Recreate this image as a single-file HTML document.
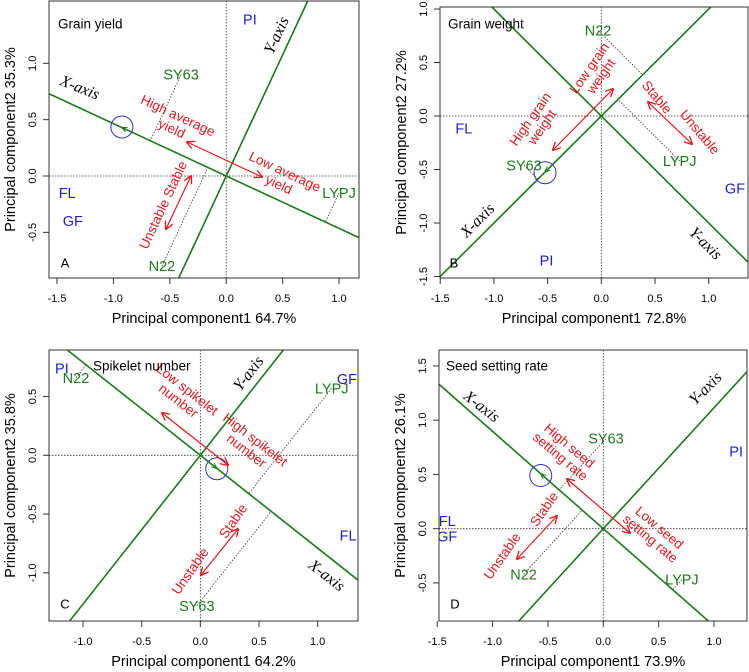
<!DOCTYPE html>
<html><head><meta charset="utf-8"><style>
html,body{margin:0;padding:0;background:#fff;width:749px;height:672px;overflow:hidden}
svg{display:block;font-family:"Liberation Sans",sans-serif}
</style></head><body>
<svg id="fig" width="749" height="672" viewBox="0 0 749 672"></svg>
<script>
// ---- Panel A: Grain yield ----
const gyGenoNames=["SY63","N22","LYPJ"];
const gyGenoX=[-0.40,-0.57,1.0];
const gyGenoY=[0.90,-0.80,-0.15];
const gyEnvNames=["PI","FL","GF"];
const gyEnvX=[0.21,-1.41,-1.36];
const gyEnvY=[1.39,-0.15,-0.40];
const gyAxisSlope=-0.465;
const gyCircle=[-0.925,0.435];
// ---- Panel B: Grain weight ----
const gwGenoNames=["N22","SY63","LYPJ"];
const gwGenoX=[-0.03,-0.72,0.73];
const gwGenoY=[0.80,-0.46,-0.42];
const gwEnvNames=["FL","GF","PI"];
const gwEnvX=[-1.28,1.245,-0.51];
const gwEnvY=[-0.115,-0.675,-1.35];
const gwAxisSlope=1.0;
const gwCircle=[-0.524,-0.53];
// ---- Panel C: Spikelet number ----
const snGenoNames=["N22","LYPJ","SY63"];
const snGenoX=[-1.06,1.12,-0.03];
const snGenoY=[0.66,0.57,-1.28];
const snEnvNames=["PI","GF","FL"];
const snEnvX=[-1.18,1.25,1.26];
const snEnvY=[0.74,0.65,-0.68];
const snAxisSlope=-0.79;
const snCircle=[0.14,-0.114];
// ---- Panel D: Seed setting rate ----
const ssGenoNames=["SY63","N22","LYPJ"];
const ssGenoX=[0.024,-0.72,0.71];
const ssGenoY=[0.83,-0.42,-0.47];
const ssEnvNames=["PI","FL","GF"];
const ssEnvX=[1.2,-1.41,-1.41];
const ssEnvY=[0.71,0.07,-0.07];
const ssAxisSlope=-0.897;
const ssCircle=[-0.565,0.49];
// ticks
const ticksA_X=[-1.5,-1.0,-0.5,0.0,0.5,1.0], ticksA_Y=[-0.5,0.0,0.5,1.0];
const ticksB_X=[-1.5,-1.0,-0.5,0.0,0.5,1.0], ticksB_Y=[-1.5,-1.0,-0.5,0.0,0.5,1.0];
const ticksC_X=[-1.0,-0.5,0.0,0.5,1.0], ticksC_Y=[-1.0,-0.5,0.0,0.5];
const ticksD_X=[-1.5,-1.0,-0.5,0.0,0.5,1.0], ticksD_Y=[-0.5,0.0,0.5,1.0,1.5];

const NS="http://www.w3.org/2000/svg";
const svg=document.getElementById('fig');
function mk(tag,attrs,parent){const e=document.createElementNS(NS,tag);for(const k in attrs)e.setAttribute(k,attrs[k]);(parent||svg).appendChild(e);return e;}
function txt(parent,x,y,str,opts){
  const t=mk('text',{x:x,y:y,'text-anchor':opts.anchor||'middle','font-size':opts.size||12,fill:opts.fill||'#000'},parent);
  if(opts.family)t.setAttribute('font-family',opts.family);
  if(opts.style)t.setAttribute('font-style',opts.style);
  if(opts.rot!==undefined)t.setAttribute('transform','rotate('+opts.rot+' '+x+' '+y+')');
  const lines=str.split('\n');
  const lh=(opts.size||12)*1.05;
  lines.forEach((l,i)=>{const s=mk('tspan',{x:x,dy:i===0?(-(lines.length-1)*lh/2+ (opts.size||12)*0.35):lh},t);s.textContent=l;});
  return t;
}
mk('defs',{}).innerHTML='<marker id="ar" viewBox="0 0 10 10" refX="9" refY="5" markerWidth="7" markerHeight="7" orient="auto-start-reverse"><path d="M0,0 L10,5 L0,10" fill="none" stroke="#e31a1c" stroke-width="1.6"/></marker><marker id="ag" viewBox="0 0 10 10" refX="9" refY="5" markerWidth="6" markerHeight="6" orient="auto"><path d="M0,1 L10,5 L0,9" fill="none" stroke="#1a7a1a" stroke-width="1.6"/></marker>';

function fmt(v){return v.toFixed(1);}
function panel(c){
  const g=mk('g',{},svg);
  
  
  const [l,t,r,b]=c.box;
  const sx=x=>l+(x-c.xd[0])/(c.xd[1]-c.xd[0])*(r-l);
  const sy=y=>b-(y-c.yd[0])/(c.yd[1]-c.yd[0])*(b-t);
  const cid='clip'+c.id;
  const clip=mk('clipPath',{id:cid},g);
  mk('rect',{x:l,y:t,width:r-l,height:b-t},clip);
  const pg=mk('g',{'clip-path':'url(#'+cid+')'},g);
  const h=mk('line',{x1:l,x2:r,y1:sy(0),y2:sy(0),stroke:'#333','stroke-width':0.8,'stroke-dasharray':'1.5,1.5'},pg);
  
  const v=mk('line',{x1:sx(0),x2:sx(0),y1:t,y2:b,stroke:'#333','stroke-width':0.8,'stroke-dasharray':'1.5,1.5'},pg);
  
  // line through origin clipped to domain
  function span(k){
    const a=c.yd[0]/k, bb=c.yd[1]/k;
    return [Math.max(c.xd[0],Math.min(a,bb)),Math.min(c.xd[1],Math.max(a,bb))];
  }
  const s=c.slope, s2=-1/s;
  const [xa0,xa1]=span(s), [ya0,ya1]=span(s2);
  const xa=mk('line',{x1:sx(xa0),y1:sy(xa0*s),x2:sx(xa1),y2:sy(xa1*s),stroke:'#1a7a1a','stroke-width':1.6},pg);
  
  const ya=mk('line',{x1:sx(ya0),y1:sy(ya0*s2),x2:sx(ya1),y2:sy(ya1*s2),stroke:'#1a7a1a','stroke-width':1.6},pg);
  
  const d2=1+s*s;
  c.gx.forEach((gx,i)=>{
    const gy=c.gy[i]; const tt=(gx+gy*s)/d2;
    const pl=mk('line',{x1:sx(gx),y1:sy(gy),x2:sx(tt),y2:sy(tt*s),stroke:'#333','stroke-width':0.8,'stroke-dasharray':'1.5,1.5'},pg);
    
  });
  const ci=mk('circle',{cx:sx(c.circle[0]),cy:sy(c.circle[1]),r:11,fill:'none',stroke:'#3030c0','stroke-width':1},pg);
  
  const dir=c.circle[0]<0?-1:1;
  const ah=mk('line',{x1:sx(c.circle[0]-dir*0.06),y1:sy((c.circle[0]-dir*0.06)*s),x2:sx(c.circle[0]),y2:sy(c.circle[0]*s),stroke:'#1a7a1a','stroke-width':1,'marker-end':'url(#ag)'},pg);
  
  c.gx.forEach((gx,i)=>{const e=txt(pg,sx(gx),sy(c.gy[i]),c.gn[i],{size:14.5,fill:'#1a7a1a'});
    });
  c.ex.forEach((ex,i)=>{const e=txt(pg,sx(ex),sy(c.ey[i]),c.en[i],{size:14.5,fill:'#2020c8'});
    });
  c.arrows.forEach((a,i)=>{const e=mk('line',{x1:a[0],y1:a[1],x2:a[2],y2:a[3],stroke:'#e31a1c','stroke-width':1.2,'marker-start':'url(#ar)','marker-end':'url(#ar)'},g);
    });
  c.notes.forEach(n=>{const e=txt(g,n[0],n[1],n[2],{size:13.5,fill:'#e31a1c',rot:n[3]});
    });
  c.axlab.forEach(n=>{const e=txt(g,n[0],n[1],n[2],{size:16,fill:'#000',rot:n[3],family:'"Liberation Serif",serif',style:'italic'});
    });
  const ti=txt(g,c.title[0],c.title[1],c.title[2],{size:13.5,anchor:'start'});
  
  const pl=txt(g,c.plab[0],c.plab[1],c.plab[2],{size:13});
  
  const bx=mk('rect',{x:l,y:t,width:r-l,height:b-t,fill:'none',stroke:'#333','stroke-width':1},g);
  
  c.xt.forEach(v=>{mk('line',{x1:sx(v),x2:sx(v),y1:b,y2:b+6,stroke:'#333'},g);
    const e=txt(g,sx(v),b+20,fmt(v),{size:11});});
  c.yt.forEach(v=>{mk('line',{x1:l,x2:l-6,y1:sy(v),y2:sy(v),stroke:'#333'},g);
    const e=txt(g,l-17,sy(v),fmt(v),{size:11,rot:-90});});
  const xt=txt(g,(l+r)/2,b+40,c.xlab,{size:14.5});
  const yt=txt(g,l-39,(t+b)/2,c.ylab,{size:14.5,rot:-90});
}
panel({id:'A',name:'panel-a-grain-yield',box:[49,1,359,278],xd:[-1.571,1.177],yd:[-0.905,1.553],xt:ticksA_X,yt:ticksA_Y,
 slope:gyAxisSlope,circle:gyCircle,gn:gyGenoNames,gx:gyGenoX,gy:gyGenoY,en:gyEnvNames,ex:gyEnvX,ey:gyEnvY,
 arrows:[[187,142,262,177],[191,176,166,229]],
 notes:[[175,122,'High average\nyield',25],[282,178,'Low average\nyield',25],[163,205,'Unstable  Stable',-65]],
 axlab:[[80,87,'X-axis',22],[276,35,'Y-axis',-65]],
 title:[58,24,'Grain yield'],plab:[65,263,'A'],xlab:'Principal component1 64.7%',ylab:'Principal component2 35.3%'});
panel({id:'B',name:'panel-b-grain-weight',box:[440,7,748,278],xd:[-1.502,1.366],yd:[-1.514,1.019],xt:ticksB_X,yt:ticksB_Y,
 slope:gwAxisSlope,circle:gwCircle,gn:gwGenoNames,gx:gwGenoX,gy:gwGenoY,en:gwEnvNames,ex:gwEnvX,ey:gwEnvY,
 arrows:[[553,150,613,89],[648,102,692,144]],
 notes:[[536,123,'High grain\nweight',-55],[595,72,'Low grain\nweight',-55],[657,97,'Stable',50],[700,132,'Unstable',50]],
 axlab:[[477,220,'X-axis',-45],[706,243,'Y-axis',45]],
 title:[448,24,'Grain weight'],plab:[454,263,'B'],xlab:'Principal component1 72.8%',ylab:'Principal component2 27.2%'});
panel({id:'C',name:'panel-c-spikelet-number',box:[49,350,358,621],xd:[-1.290,1.344],yd:[-1.410,0.896],xt:ticksC_X,yt:ticksC_Y,
 slope:snAxisSlope,circle:snCircle,gn:snGenoNames,gx:snGenoX,gy:snGenoY,en:snEnvNames,ex:snEnvX,ey:snEnvY,
 arrows:[[162,413,228,465],[238,529,201,575]],
 notes:[[183,395,'Low spikelet\nnumber',38],[251,445,'High spikelet\nnumber',38],[233,521,'Stable',-55],[190,571,'Unstable',-55]],
 axlab:[[327,575,'X-axis',38],[248,373,'Y-axis',-52]],
 title:[93,366,'Spikelet number'],plab:[65,604,'C'],xlab:'Principal component1 64.2%',ylab:'Principal component2 35.8%'});
panel({id:'D',name:'panel-d-seed-setting-rate',box:[439,350,747,621],xd:[-1.484,1.298],yd:[-0.851,1.647],xt:ticksD_X,yt:ticksD_Y,
 slope:ssAxisSlope,circle:ssCircle,gn:ssGenoNames,gx:ssGenoX,gy:ssGenoY,en:ssEnvNames,ex:ssEnvX,ey:ssEnvY,
 arrows:[[567,479,630,533],[557,516,517,559]],
 notes:[[565,451,'High seed\nsetting rate',40],[655,533,'Low seed\nsetting rate',40],[544,509,'Stable',-55],[502,556,'Unstable',-55]],
 axlab:[[482,406,'X-axis',38],[705,388,'Y-axis',-45]],
 title:[446,366,'Seed setting rate'],plab:[455,604,'D'],xlab:'Principal component1 73.9%',ylab:'Principal component2 26.1%'});
</script>
</body></html>
